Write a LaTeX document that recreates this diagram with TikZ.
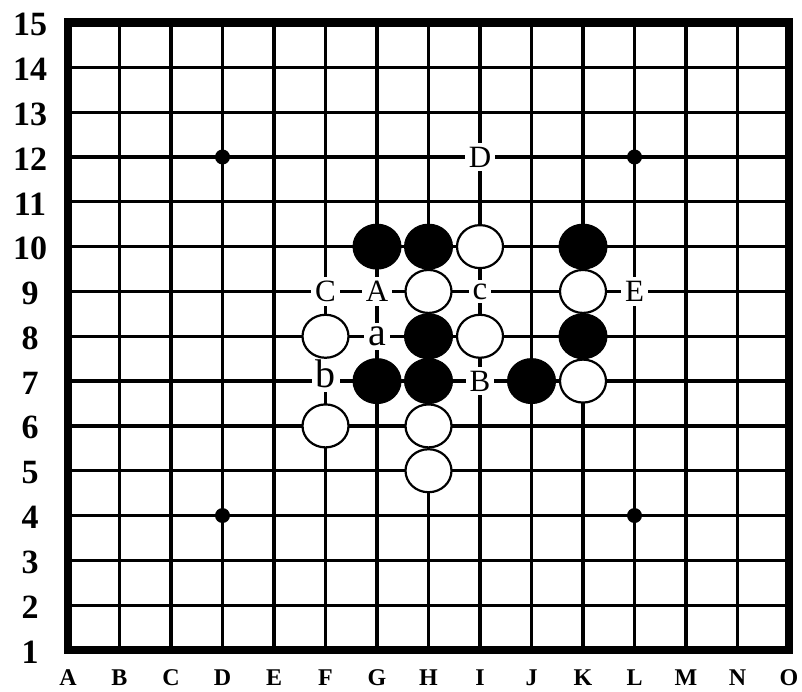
\documentclass[tikz,border=0pt]{standalone}
\usepackage{fontspec}
\setmainfont{Liberation Serif}
\usetikzlibrary{shapes.geometric}
\begin{document}
\begin{tikzpicture}[x=1pt,y=-1pt,
  gridline/.style={line width=3.2pt,black},
  border/.style={line width=8.5pt,black},
  bstone/.style={ellipse,fill=black,draw=black,line width=1pt,minimum width=48pt,minimum height=45pt,inner sep=0pt},
  wstone/.style={ellipse,fill=white,draw=black,line width=2.2pt,minimum width=46pt,minimum height=43pt,inner sep=0pt},
  hoshi/.style={circle,fill=black,inner sep=0pt,minimum size=15pt},
  biglab/.style={fill=white,inner sep=4pt,font=\fontsize{31}{31}\selectfont},
  smalllab/.style={fill=white,inner sep=4pt,font=\fontsize{40}{40}\selectfont},
  clab/.style={fill=white,inner sep=4pt,font=\fontsize{33}{33}\selectfont},
  rowlab/.style={inner sep=0pt,font=\fontsize{34}{34}\selectfont\bfseries},
  collab/.style={inner sep=0pt,font=\fontsize{24}{24}\selectfont\bfseries}
]
\useasboundingbox (0,0) rectangle (802,691);
\fill[white] (0,0) rectangle (802,691);
% grid points
\foreach \i in {1,...,15}{
  \foreach \j in {1,...,15}{
    \coordinate (p-\i-\j) at ({68+51.5*(\i-1)},{650-44.82*(\j-1)});
  }
}
% grid lines
\foreach \i in {2,...,14}{
  \draw[gridline] (p-\i-1) -- (p-\i-15);
  \draw[gridline] (p-1-\i) -- (p-15-\i);
}
\draw[border] (p-1-1) rectangle (p-15-15);
% star points
\node[hoshi] (s1) at (p-4-12) {};
\node[hoshi] (s2) at (p-12-12) {};
\node[hoshi] (s3) at (p-4-4) {};
\node[hoshi] (s4) at (p-12-4) {};
% row labels
\foreach \j in {1,...,15}{
  \node[rowlab] (r\j) at ({30},{652-44.82*(\j-1)}) {\j};
}
% column labels
\foreach \l [count=\i] in {A,B,C,D,E,F,G,H,I,J,K,L,M,N,O}{
  \node[collab] (c\l) at ({68+51.5*(\i-1)},{678}) {\l};
}
% letter labels on the board
\node[biglab] (lD) at (p-9-12) {D};
\node[biglab] (lC) at (p-6-9) {C};
\node[biglab] (lA) at (p-7-9) {A};
\node[clab] (lc) at (p-9-9) {c};
\node[biglab] (lE) at (p-12-9) {E};
\node[smalllab] (la) at (p-7-8) {a};
\node[smalllab,yshift=7pt] (lb) at (p-6-7) {b};
\node[biglab] (lB) at (p-9-7) {B};
% black stones
\node[bstone] (bG10) at (p-7-10) {};
\node[bstone] (bH10) at (p-8-10) {};
\node[bstone] (bK10) at (p-11-10) {};
\node[bstone] (bH8) at (p-8-8) {};
\node[bstone] (bK8) at (p-11-8) {};
\node[bstone] (bG7) at (p-7-7) {};
\node[bstone] (bH7) at (p-8-7) {};
\node[bstone] (bJ7) at (p-10-7) {};
% white stones
\node[wstone] (wI10) at (p-9-10) {};
\node[wstone] (wH9) at (p-8-9) {};
\node[wstone] (wK9) at (p-11-9) {};
\node[wstone] (wF8) at (p-6-8) {};
\node[wstone] (wI8) at (p-9-8) {};
\node[wstone] (wK7) at (p-11-7) {};
\node[wstone] (wF6) at (p-6-6) {};
\node[wstone] (wH6) at (p-8-6) {};
\node[wstone] (wH5) at (p-8-5) {};
\end{tikzpicture}
\end{document}
